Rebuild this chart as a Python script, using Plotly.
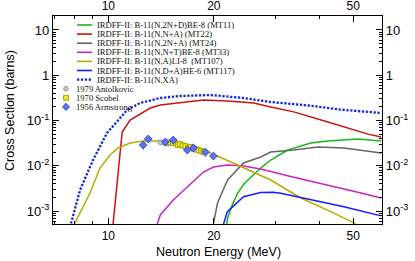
import plotly.graph_objects as go

# ---------------- data ----------------
mt11_x = [21.6, 21.9, 22.6, 23.4, 24.4, 25.5, 27.2, 29.06, 32.5, 37.84, 42.32, 51.6, 60.04]
mt11_y = [3.4e-4, 7e-4, 1.4e-3, 2.5e-3, 4.0e-3, 5.6e-3, 8.9e-3, 0.0134, 0.0223, 0.0318, 0.0352, 0.039, 0.0352]

mt22_x = [10.21, 10.95, 11.54, 13.17, 14.07, 15.74, 18.68, 21.88, 25.98, 29.06, 33.82, 42.32, 52.63, 55.12, 60.04]
mt22_y = [2.3e-4, 0.0557, 0.1026, 0.189, 0.22, 0.244, 0.284, 0.27, 0.244, 0.199, 0.155, 0.093, 0.0557, 0.050, 0.043]

mt24_x = [19.76, 20.49, 21.88, 24.32, 27.21, 29.06, 33.82, 39.63, 47.04, 60.04]
mt24_y = [3.6e-4, 1.5e-3, 4.84e-3, 0.0115, 0.0156, 0.0201, 0.0223, 0.026, 0.0247, 0.0191]

mt33_x = [13.52, 14.07, 15.32, 16.81, 18.68, 19.95, 21.88, 24.32, 27.21, 33.82, 42.32, 52.63, 60.04]
mt33_y = [3.3e-4, 8.2e-4, 1.75e-3, 3.39e-3, 7.27e-3, 9.4e-3, 0.0104, 0.0099, 8.5e-3, 5.6e-3, 3.76e-3, 2.5e-3, 1.94e-3]

mt107_x = [7.87, 8.03, 8.86, 9.47, 10.11, 10.66, 11.54, 12.57, 14.07, 15.74, 17.49, 19.56, 23.38, 29.06, 35.42, 44.03, 50.25, 52.63]
mt107_y = [4.0e-4, 5.4e-4, 2.5e-3, 9.0e-3, 0.0173, 0.0247, 0.0318, 0.0352, 0.0352, 0.0318, 0.0247, 0.0191, 0.0104, 4.84e-3, 1.94e-3, 9.0e-4, 5.4e-4, 4.0e-4]

mt117_x = [20.97, 21.32, 21.84, 22.77, 24.32, 27.21, 29.5, 31.05, 37.84, 47.04, 60.04]
mt117_y = [3.4e-4, 5.2e-4, 9.5e-4, 1.3e-3, 2.07e-3, 2.56e-3, 2.6e-3, 2.46e-3, 1.75e-3, 1.24e-3, 7.8e-4]

xa_x = [7.72, 7.87, 8.30, 9.04, 9.91, 10.80, 11.31, 12.33, 14.07, 16.05, 19.56, 24.32, 29.06, 36.13, 47.04, 60.04]
xa_y = [3.6e-4, 6.3e-4, 2.9e-3, 0.0134, 0.053, 0.113, 0.171, 0.244, 0.314, 0.348, 0.366, 0.314, 0.256, 0.22, 0.171, 0.147]

antolkovic_x = [14.1, 14.5, 14.8]
antolkovic_y = [0.033, 0.032, 0.031]

scobel_x = [15.0, 15.3, 15.6, 15.8, 16.0, 16.3, 16.6, 16.9, 17.2, 17.5, 17.8, 18.1, 18.4, 18.7]
scobel_y = [0.033, 0.032, 0.031, 0.029, 0.030, 0.028, 0.027, 0.025, 0.026, 0.024, 0.023, 0.022, 0.021, 0.020]

armstrong_x = [12.57, 13.0, 14.54, 15.32, 16.81, 17.49, 18.93, 19.95]
armstrong_y = [0.0288, 0.039, 0.0335, 0.037, 0.0223, 0.0247, 0.020, 0.0164]
armstrong_err = [0.006, 0.007, 0.006, 0.007, 0.004, 0.005, 0.004, 0.003]

line_labels = [
    "IRDFF-II: B-11(N,2N+D)BE-8 (MT11)",
    "IRDFF-II: B-11(N,N+A) (MT22)",
    "IRDFF-II: B-11(N,2N+A) (MT24)",
    "IRDFF-II: B-11(N,N+T)BE-8 (MT33)",
    "IRDFF-II: B-11(N,A)LI-8  (MT107)",
    "IRDFF-II: B-11(N,D+A)HE-6 (MT117)",
    "IRDFF-II: B-11(N,XA)",
]
data_labels = ["1979 Antolkovic", "1970 Scobel", "1956 Armstrong"]

x_tickvals = [10, 20, 50]
x_ticktext = ["10", "20", "50"]
y_tickvals = [1e-3, 1e-2, 1e-1, 1, 10]
y_ticktext = ["10<sup>-3</sup>", "10<sup>-2</sup>", "10<sup>-1</sup>", "1", "10"]

# ---------------- styles ----------------
colors = ["#18b818", "#c81414", "#666666", "#c822c8", "#b4ac00", "#1a1aff", "#1428d4"]
series = [(mt11_x, mt11_y), (mt22_x, mt22_y), (mt24_x, mt24_y), (mt33_x, mt33_y),
          (mt107_x, mt107_y), (mt117_x, mt117_y), (xa_x, xa_y)]

W, H = 415, 261
L, R, T, B = 53, 382, 16, 224

def fx(p):
    return (p - L) / (R - L)

def fy(p):
    return (B - p) / (B - T)

fig = go.Figure()
for i, ((xs, ys), lab) in enumerate(zip(series, line_labels)):
    if i == 6:
        ln = dict(color=colors[i], width=2.3, dash="2.3px,1.6px")
    else:
        ln = dict(color=colors[i], width=1.5)
    fig.add_trace(go.Scatter(x=xs, y=ys, mode="lines", line=ln, name=lab,
                             showlegend=False, hoverinfo="skip"))

fig.add_trace(go.Scatter(x=antolkovic_x, y=antolkovic_y, mode="markers", name=data_labels[0],
                         marker=dict(symbol="circle", size=5, color="#c8c8c8",
                                     line=dict(color="#9a9a9a", width=1)), showlegend=False))
fig.add_trace(go.Scatter(x=scobel_x, y=scobel_y, mode="markers", name=data_labels[1],
                         marker=dict(symbol="square", size=5, color="#ecec30",
                                     line=dict(color="#a8a000", width=1)), showlegend=False))
fig.add_trace(go.Scatter(x=armstrong_x, y=armstrong_y, mode="markers", name=data_labels[2],
                         error_y=dict(type="data", array=armstrong_err, visible=True,
                                      color="#3a50e0", thickness=1, width=0),
                         marker=dict(symbol="diamond", size=6, color="#5a74f2",
                                     line=dict(color="#2636b8", width=0.8)), showlegend=False))

# dummy trace for the mirrored (top/right) labelled axes
fig.add_trace(go.Scatter(x=[10], y=[1], xaxis="x2", yaxis="y2", mode="markers",
                         marker=dict(opacity=0), showlegend=False, hoverinfo="skip"))

xr = [0.842, 1.781]
yr = [-3.287, 1.309]
x_minor = [7, 8, 9, 30, 40, 60]
y_minor = [m * 10.0 ** e for e in range(-4, 2) for m in range(2, 10)]

tickfont_x = dict(family="Liberation Sans, Arial, sans-serif", size=12, color="black")
tickfont_y = dict(family="Liberation Sans, Arial, sans-serif", size=13, color="black")

common_x = dict(type="log", range=xr, tickmode="array", tickvals=x_tickvals, ticktext=x_ticktext,
                ticks="inside", ticklen=6, tickwidth=1, tickcolor="black",
                showline=True, linecolor="black", linewidth=1.3, showgrid=False, zeroline=False,
                minor=dict(tickmode="array", tickvals=x_minor, ticks="inside", ticklen=3,
                           tickcolor="black", showgrid=False),
                tickfont=tickfont_x)
common_y = dict(type="log", range=yr, tickmode="array", tickvals=y_tickvals, ticktext=y_ticktext,
                ticks="inside", ticklen=6, tickwidth=1, tickcolor="black",
                showline=True, linecolor="black", linewidth=1.3, showgrid=False, zeroline=False,
                minor=dict(tickmode="array", tickvals=y_minor, ticks="inside", ticklen=3,
                           tickcolor="black", showgrid=False),
                tickfont=tickfont_y)

fig.update_layout(
    width=W, height=H,
    margin=dict(l=L, r=W - R, t=T, b=H - B, autoexpand=False),
    paper_bgcolor="white", plot_bgcolor="white",
    showlegend=False,
    xaxis=dict(**common_x, side="bottom"),
    yaxis=dict(**common_y, side="left"),
    xaxis2=dict(**common_x, side="top", overlaying="x", anchor="y"),
    yaxis2=dict(**common_y, side="right", overlaying="y", anchor="x"),
)

# ---------------- hand-built compact legend ----------------
shapes = []
annotations = []
row0, dy = 25.0, 9.1
legfont = dict(family="Liberation Serif, Times New Roman, serif", size=8.6, color="#111111")
for i, lab in enumerate(line_labels):
    yy = fy(row0 + i * dy)
    if i == 6:
        shapes.append(dict(type="line", xref="paper", yref="paper", x0=fx(77), x1=fx(92), y0=yy, y1=yy,
                           line=dict(color=colors[i], width=2.3, dash="2.3px,1.6px")))
    else:
        shapes.append(dict(type="line", xref="paper", yref="paper", x0=fx(77), x1=fx(92), y0=yy, y1=yy,
                           line=dict(color=colors[i], width=1.6)))
    annotations.append(dict(text=lab, xref="paper", yref="paper", x=fx(95), y=yy,
                            xanchor="left", yanchor="middle", showarrow=False, font=legfont))

for j, lab in enumerate(data_labels):
    rowy = row0 + (7 + j) * dy
    yy = fy(rowy)
    cx = 66
    if j == 0:
        shapes.append(dict(type="circle", xref="paper", yref="paper",
                           x0=fx(cx - 2.3), x1=fx(cx + 2.3), y0=fy(rowy + 2.3), y1=fy(rowy - 2.3),
                           fillcolor="#c8c8c8", line=dict(color="#9a9a9a", width=1)))
    elif j == 1:
        shapes.append(dict(type="rect", xref="paper", yref="paper",
                           x0=fx(cx - 2.4), x1=fx(cx + 2.4), y0=fy(rowy + 2.4), y1=fy(rowy - 2.4),
                           fillcolor="#ecec30", line=dict(color="#a8a000", width=1)))
    else:
        path = "M {a},{b} L {c},{d} L {a},{e} L {f},{d} Z".format(
            a=fx(cx), b=fy(rowy - 3.6), c=fx(cx + 3.6), d=yy, e=fy(rowy + 3.6), f=fx(cx - 3.6))
        shapes.append(dict(type="path", xref="paper", yref="paper", path=path,
                           fillcolor="#5a74f2", line=dict(color="#2636b8", width=0.8)))
    annotations.append(dict(text=lab, xref="paper", yref="paper", x=fx(74), y=yy,
                            xanchor="left", yanchor="middle", showarrow=False, font=legfont))

titlefont = dict(family="Liberation Sans, Arial, sans-serif", size=12.5, color="black")
annotations.append(dict(text="Cross Section (barns)", xref="paper", yref="paper",
                        x=fx(10), y=fy(111), textangle=-90, xanchor="center", yanchor="middle",
                        showarrow=False, font=titlefont))
annotations.append(dict(text="Neutron Energy (MeV)", xref="paper", yref="paper",
                        x=fx(218), y=fy(252), xanchor="center", yanchor="middle",
                        showarrow=False, font=titlefont))

fig.update_layout(shapes=shapes, annotations=annotations)

fig.write_html("out.html", config={"displayModeBar": False},
               post_script="document.body.style.margin='0';")
